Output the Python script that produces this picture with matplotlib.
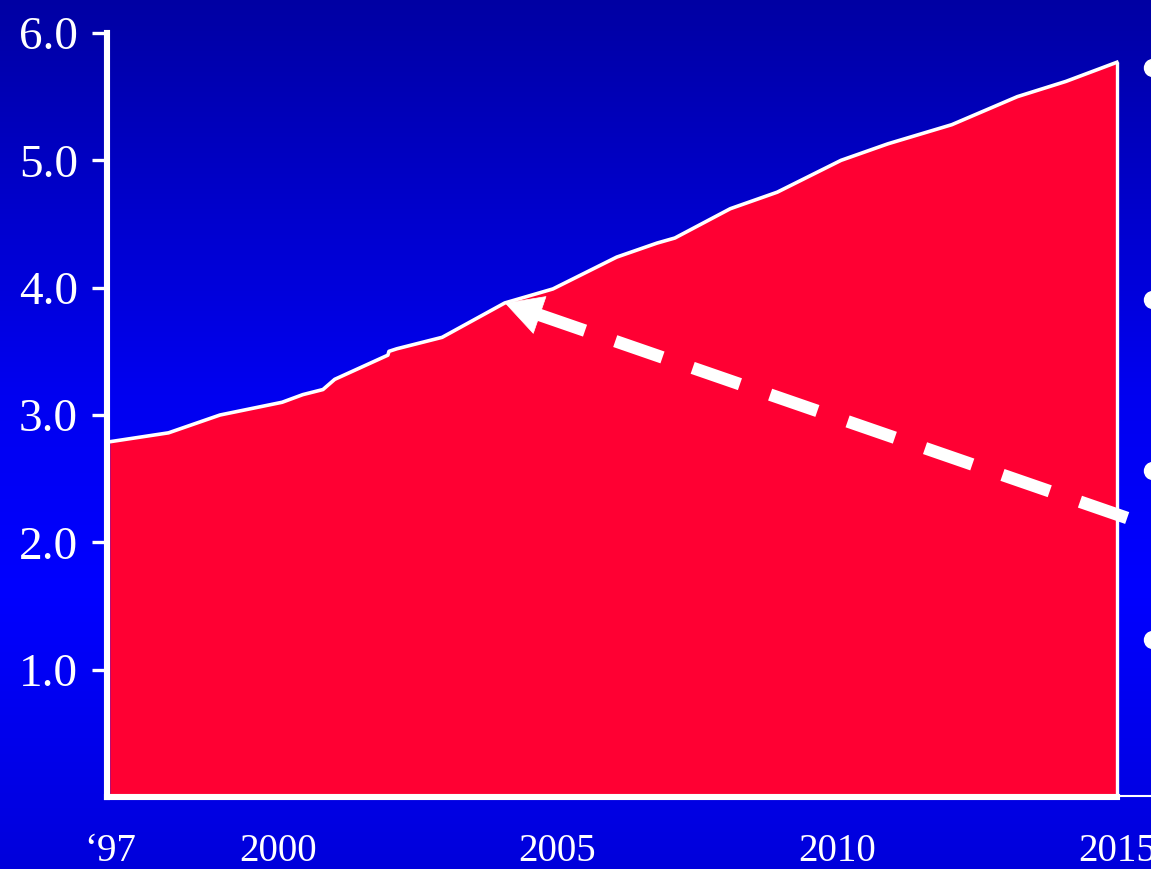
import matplotlib
matplotlib.use("Agg")
import matplotlib.pyplot as plt
import numpy as np
from matplotlib.patches import Ellipse, FancyArrowPatch

# ── Data ───────────────────────────────────────────────────────────────
years = [1997.0, 1998.05, 1998.97, 2000.08, 2000.45, 2000.81, 2001.02,
         2001.97, 2001.99, 2002.13, 2002.94, 2004.06, 2004.92, 2006.06,
         2006.78, 2007.10, 2008.09, 2008.93, 2010.07, 2010.91, 2012.05,
         2013.22, 2014.09, 2015.0]
values = [2.79, 2.86, 3.00, 3.10, 3.16, 3.20, 3.28,
          3.47, 3.50, 3.52, 3.61, 3.88, 3.99, 4.24,
          4.35, 4.39, 4.62, 4.75, 5.00, 5.13, 5.28,
          5.50, 5.62, 5.77]

x_ticks = [1997, 2000, 2005, 2010, 2015]
x_labels = ["\u201897", "2000", "2005", "2010", "2015"]
y_ticks = [1.0, 2.0, 3.0, 4.0, 5.0, 6.0]
y_labels = ["1.0", "2.0", "3.0", "4.0", "5.0", "6.0"]

arrow_tip = (2004.06, 3.88)
arrow_tail = (2015.85, 2.09)

# ── Style ──────────────────────────────────────────────────────────────
RED = "#FF0033"
WHITE = "white"
W, H = 1151, 869
plt.rcParams.update({
    "font.family": ["Liberation Serif", "DejaVu Serif"],
    "lines.scale_dashes": False,
})

fig = plt.figure(figsize=(W / 100, H / 100), dpi=100)

# vertical blue gradient behind everything
bg = fig.add_axes([0, 0, 1, 1], zorder=-5)
pos = np.linspace(0, 1, 400)
blue = np.interp(pos, [0.0, 0.45, 0.68, 1.0], [0.64, 0.94, 1.0, 0.86])
grad = np.zeros((400, 1, 3))
grad[:, 0, 2] = blue
bg.imshow(grad, aspect="auto", extent=[0, 1, 0, 1], origin="upper")
bg.set_axis_off()

ax = fig.add_axes([107 / W, 72 / H, 1044 / W, 764 / H])
ax.patch.set_alpha(0)

ax.fill_between(years, values, 0, color=RED, lw=0, zorder=2)
ax.plot(years, values, color=WHITE, lw=2.6, zorder=3, solid_joinstyle="round")
ax.vlines(years[-1], 0, values[-1], color=WHITE, lw=2.4, zorder=3)

# dashed arrow pointing back at the curve
tip = np.array(arrow_tip)
tail = np.array(arrow_tail)
base = tip + 0.05 * (tail - tip)
ax.plot([base[0], tail[0]], [base[1], tail[1]], color=WHITE, lw=9,
        dashes=(36, 23), solid_capstyle="butt", dash_capstyle="butt", zorder=4)
head = FancyArrowPatch(posA=tuple(base), posB=tuple(tip),
                       arrowstyle="-|>,head_length=26,head_width=14",
                       mutation_scale=1, shrinkA=0, shrinkB=0,
                       color=WHITE, lw=0.5, zorder=5)
ax.add_patch(head)

ax.set_xlim(1996.95, 2015.61)
ax.set_ylim(0, 6.0)

for s in ("top", "right"):
    ax.spines[s].set_visible(False)
for s in ("left", "bottom"):
    ax.spines[s].set_color(WHITE)
    ax.spines[s].set_linewidth(4.4)
    ax.spines[s].set_zorder(6)
ax.spines["bottom"].set_bounds(1996.95, 2015.0)
ax.plot([2015.0, 2015.61], [0.01, 0.01], color=WHITE, lw=1.5, zorder=6,
        clip_on=False)

ax.set_yticks(y_ticks, y_labels)
ax.set_xticks(x_ticks, x_labels)
ax.tick_params(axis="y", colors=WHITE, length=11, width=2.4, pad=10,
               labelsize=34, labelcolor=WHITE)
ax.tick_params(axis="x", length=0, pad=26, labelsize=28, labelcolor=WHITE)

# bullet points of the slide text, cut off at the right edge
for yp in [68, 300, 471, 640]:
    fig.add_artist(Ellipse((1153 / W, 1 - yp / H), 17 / W, 17 / H,
                           transform=fig.transFigure, color=WHITE))

fig.savefig("out.png", dpi=100)
